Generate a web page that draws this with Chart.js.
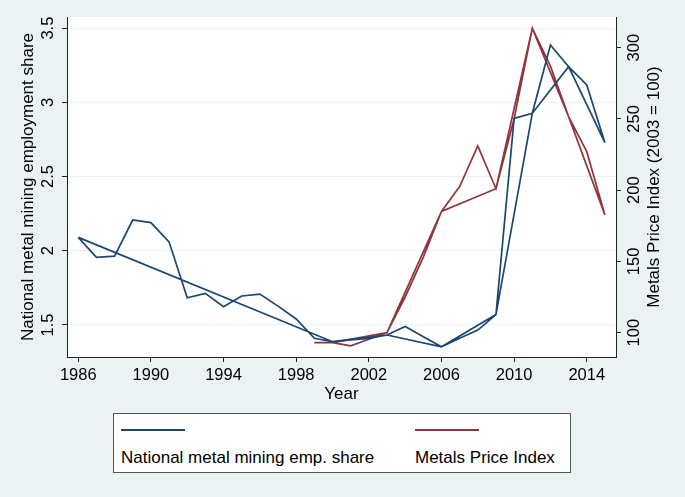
<!DOCTYPE html>
<html>
<head>
<meta charset="utf-8">
<script src="https://cdn.jsdelivr.net/npm/chart.js@4/dist/chart.umd.min.js"></script>
<style>
  body { margin: 0; background: #eaf2f3; }
  #wrap { position: relative; width: 685px; height: 497px; }
  #legend {
    position: absolute; left: 113px; top: 413px; width: 458px; height: 60px;
    box-sizing: border-box; border: 1px solid #555; background: #fff;
    font-family: 'Liberation Sans', Arial, sans-serif; font-size: 17px; color: #000;
  }
  .key { position: absolute; top: 15px; width: 64px; height: 0; border-top: 2px solid; }
  .lbl { position: absolute; top: 34px; white-space: nowrap; }
</style>
</head>
<body>
<div id="wrap">
  <canvas id="chart" width="685" height="497"></canvas>
  <div id="legend"></div>
</div>
<script>
const years = [1986, 1987, 1988, 1989, 1990, 1991, 1992, 1993, 1994, 1995,
  1996, 1997, 1998, 1999, 2000, 2001, 2002, 2003, 2004, 2005,
  2006, 2007, 2008, 2009, 2010, 2011, 2012, 2013, 2014, 2015];
const empShare = [2.09, 1.955, 1.964, 2.207, 2.19, 2.06, 1.683, 1.713, 1.623, 1.695,
  1.708, 1.627, 1.54, 1.41, 1.387, 1.40, 1.41, 1.432, 1.49, 1.42,
  1.353, 1.41, 1.465, 1.57, 2.892, 2.926, 3.386, 3.24, 3.117, 2.728];
const priceIndex = [null, null, null, null, null, null, null, null, null, null,
  null, null, null, 93, 93, 90.7, 95.4, 100, 125, 153,
  185, 202.5, 231, 201, 250, 313.6, 287, 251.6, 227, 182.6];
// years that appear a second time in the data, so the line runs back over them
const repeatYears = [2015, 2013, 2011, 2009, 2006, 2003, 2000, 1986];

const xTicks = [1986, 1990, 1994, 1998, 2002, 2006, 2010, 2014];
const leftTicks = [1.5, 2, 2.5, 3, 3.5];
const rightTicks = [100, 150, 200, 250, 300];

const seriesNames = ['National metal mining emp. share', 'Metals Price Index'];
const colors = ['#1a476f', '#90353b'];
const FONT = "'Liberation Sans', Arial, sans-serif";

function buildPath(values) {
  const pts = years.map((yr, i) => ({ x: yr, y: values[i] }));
  repeatYears.forEach(yr => pts.push({ x: yr, y: values[years.indexOf(yr)] }));
  return pts;
}

function setTicks(list) {
  return scale => { scale.ticks = list.map(v => ({ value: v })); };
}

const axisText = {
  id: 'axisText',
  beforeDraw(chart) {
    const { ctx, chartArea: a } = chart;
    ctx.save();
    ctx.fillStyle = '#fff';
    ctx.fillRect(a.left, a.top, a.right - a.left, a.bottom - a.top);
    ctx.restore();
  },
  afterDraw(chart) {
    const { ctx, chartArea: a } = chart;
    const yl = chart.scales.y, yr = chart.scales.y1;
    const mid = (a.top + a.bottom) / 2;
    ctx.save();
    ctx.fillStyle = '#000';
    ctx.textAlign = 'center';
    ctx.textBaseline = 'middle';

    const rotText = (txt, x, y) => {
      ctx.save();
      ctx.translate(x, y);
      ctx.rotate(-Math.PI / 2);
      ctx.fillText(txt, 0, 0);
      ctx.restore();
    };

    ctx.font = '16.5px ' + FONT;
    leftTicks.forEach(v => rotText(String(v), 48, yl.getPixelForValue(v)));
    rightTicks.forEach(v => rotText(String(v), 634, yr.getPixelForValue(v)));

    ctx.font = '17px ' + FONT;
    rotText('National metal mining employment share', 28, mid);
    rotText('Metals Price Index (2003 = 100)', 654, mid);
    ctx.fillText('Year', (a.left + a.right) / 2, 394);
    ctx.restore();
  }
};

const chart = new Chart(document.getElementById('chart'), {
  type: 'line',
  data: {
    datasets: [
      {
        label: seriesNames[0],
        data: buildPath(empShare),
        yAxisID: 'y',
        borderColor: colors[0],
        borderWidth: 1.7,
        pointRadius: 0,
        tension: 0
      },
      {
        label: seriesNames[1],
        data: buildPath(priceIndex),
        yAxisID: 'y1',
        borderColor: colors[1],
        borderWidth: 1.7,
        pointRadius: 0,
        tension: 0
      }
    ]
  },
  options: {
    responsive: false,
    animation: false,
    layout: { padding: { top: 17, left: 0, right: 0, bottom: 0 } },
    plugins: { legend: { display: false }, tooltip: { enabled: false } },
    scales: {
      x: {
        type: 'linear',
        min: 1985.38,
        max: 2015.61,
        afterBuildTicks: setTicks(xTicks),
        afterFit: s => { s.height = 140; },
        grid: { drawOnChartArea: false, tickLength: 5, tickColor: '#222' },
        border: { color: '#222', width: 1 },
        ticks: {
          color: '#000',
          font: { family: FONT, size: 16.5 },
          padding: 4,
          maxRotation: 0,
          callback: v => String(v)
        }
      },
      y: {
        position: 'left',
        min: 1.284,
        max: 3.575,
        afterBuildTicks: setTicks(leftTicks),
        afterFit: s => { s.width = 67; },
        grid: { color: '#eaf2f3', lineWidth: 1, tickLength: 5, tickColor: '#222' },
        border: { color: '#222', width: 1 },
        ticks: { display: false }
      },
      y1: {
        position: 'right',
        min: 82.9,
        max: 321.5,
        afterBuildTicks: setTicks(rightTicks),
        afterFit: s => { s.width = 69; },
        grid: { drawOnChartArea: false, tickLength: 5, tickColor: '#222' },
        border: { color: '#222', width: 1 },
        ticks: { display: false }
      }
    }
  },
  plugins: [axisText]
});

// legend: key line above its label, as in the original
const legend = document.getElementById('legend');
const keyLeft = [7, 301];
chart.data.datasets.forEach((ds, i) => {
  const key = document.createElement('div');
  key.className = 'key';
  key.style.left = keyLeft[i] + 'px';
  key.style.borderColor = ds.borderColor;
  legend.appendChild(key);
  const lbl = document.createElement('div');
  lbl.className = 'lbl';
  lbl.style.left = keyLeft[i] + 'px';
  lbl.textContent = ds.label;
  legend.appendChild(lbl);
});
</script>
</body>
</html>
